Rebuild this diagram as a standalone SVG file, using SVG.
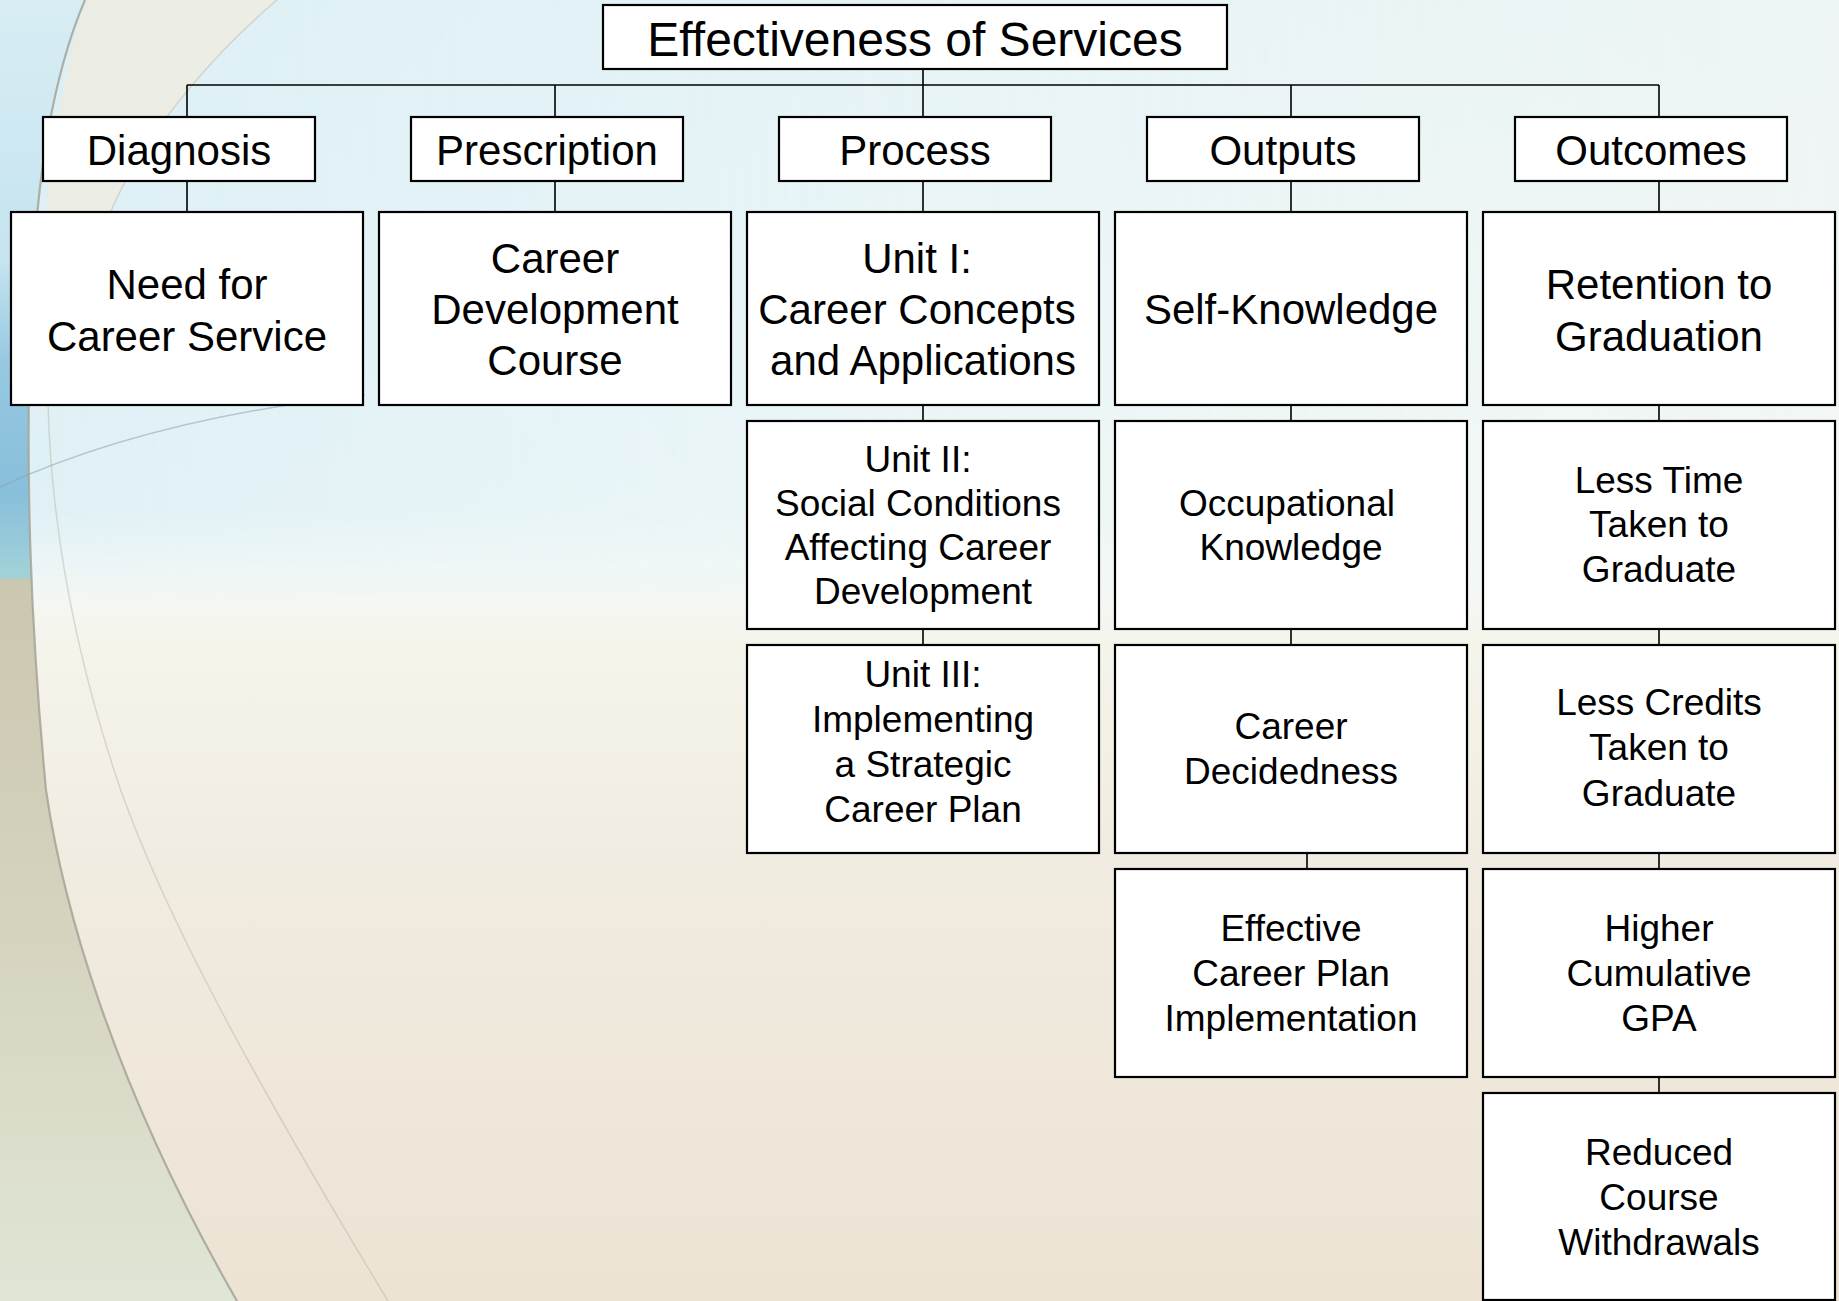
<svg xmlns="http://www.w3.org/2000/svg" width="1839" height="1301" viewBox="0 0 1839 1301">
<defs>
<linearGradient id="bgV" x1="0" y1="0" x2="0" y2="1">
<stop offset="0" stop-color="#e8f4f7"/>
<stop offset="0.3" stop-color="#eff7f8"/>
<stop offset="0.44" stop-color="#f3f8f7"/>
<stop offset="0.5" stop-color="#f5f4ea"/>
<stop offset="0.65" stop-color="#f1ece1"/>
<stop offset="1" stop-color="#ece3d4"/>
</linearGradient>
<linearGradient id="bgH" x1="0" y1="0" x2="1" y2="0">
<stop offset="0" stop-color="#d3ebf4" stop-opacity="0.6"/>
<stop offset="0.4" stop-color="#dcf0f6" stop-opacity="0.35"/>
<stop offset="0.8" stop-color="#f4f6f0" stop-opacity="0.2"/>
<stop offset="1" stop-color="#f6f6f0" stop-opacity="0.4"/>
</linearGradient>
<linearGradient id="bgHv" x1="0" y1="0" x2="0" y2="1">
<stop offset="0" stop-color="#ffffff" stop-opacity="1"/>
<stop offset="0.85" stop-color="#ffffff" stop-opacity="1"/>
<stop offset="1" stop-color="#ffffff" stop-opacity="0"/>
</linearGradient>
<mask id="topMask"><rect x="0" y="0" width="1839" height="600" fill="url(#bgHv)"/></mask>
<linearGradient id="leftG" x1="0" y1="0" x2="0" y2="1">
<stop offset="0" stop-color="#d8edf4"/>
<stop offset="0.2" stop-color="#c5e4ef"/>
<stop offset="0.28" stop-color="#96c8e1"/>
<stop offset="0.38" stop-color="#88bfdb"/>
<stop offset="0.443" stop-color="#a2d2d8"/>
<stop offset="0.447" stop-color="#cbc7b1"/>
<stop offset="0.7" stop-color="#d5d2bd"/>
<stop offset="1" stop-color="#dfe6d5"/>
</linearGradient>
<style>
.box{fill:#ffffff;stroke:#000000;stroke-width:2.2}
.ln{fill:none;stroke:#000000;stroke-width:1.6}
.t{font-family:"Liberation Sans",Arial,sans-serif;fill:#000000;text-anchor:middle}
.h{font-size:48px}
.m{font-size:42px}
.s{font-size:37px}
</style>
</defs>
<g id="background">
<rect x="0" y="0" width="1839" height="1301" fill="url(#bgV)"/>
<rect x="0" y="0" width="1839" height="600" fill="url(#bgH)" mask="url(#topMask)"/>
<path d="M277,0 C230,40 150,120 110,213 C80,290 55,350 42,420 C32,330 45,130 85,0 Z" fill="#f1ebdd" opacity="0.7"/>
<path d="M0,0 L85,0 C55,70 35,170 30,330 C26,480 30,620 46,790 C62,900 110,1080 237,1301 L0,1301 Z" fill="url(#leftG)"/>
<path d="M85,0 C55,70 35,170 30,330 C26,480 30,620 46,790 C62,900 110,1080 237,1301" fill="none" stroke="#a6a397" stroke-width="2.2" opacity="0.85"/>
<path d="M277,0 C230,40 150,120 110,213 C80,290 52,350 48,403 C52,560 90,700 121,791 C160,900 230,1040 388,1301" fill="none" stroke="#b9b3a4" stroke-width="1.5" opacity="0.45"/>
<path d="M0,487 Q150,418 365,395" fill="none" stroke="#8aa3ae" stroke-width="1.5" opacity="0.55"/>
</g>
<g id="connectors">
<path class="ln" d="M187,85 H1659"/>
<path class="ln" d="M187,85 V117 M555,85 V117 M923,69 V117 M1291,85 V117 M1659,85 V117"/>
<path class="ln" d="M187,181 V212 M555,181 V212 M923,181 V212 M1291,181 V212 M1659,181 V212"/>
<path class="ln" d="M923,405 V421 M923,629 V645"/>
<path class="ln" d="M1291,405 V421 M1291,629 V645 M1307,853 V869"/>
<path class="ln" d="M1659,405 V421 M1659,629 V645 M1659,853 V869 M1659,1077 V1093"/>
</g>
<g id="n-root"><rect class="box" x="603" y="5" width="624" height="64"/><text class="t h" x="915" y="56">Effectiveness of Services</text></g>
<g id="n-diagnosis"><rect class="box" x="43" y="117" width="272" height="64"/><text class="t m" x="179" y="165">Diagnosis</text></g>
<g id="n-prescription"><rect class="box" x="411" y="117" width="272" height="64"/><text class="t m" x="547" y="165">Prescription</text></g>
<g id="n-process"><rect class="box" x="779" y="117" width="272" height="64"/><text class="t m" x="915" y="165">Process</text></g>
<g id="n-outputs"><rect class="box" x="1147" y="117" width="272" height="64"/><text class="t m" x="1283" y="165">Outputs</text></g>
<g id="n-outcomes"><rect class="box" x="1515" y="117" width="272" height="64"/><text class="t m" x="1651" y="165">Outcomes</text></g>
<g id="n-need"><rect class="box" x="11" y="212" width="352" height="193"/><text class="t m" x="187" y="299">Need for</text><text class="t m" x="187" y="351">Career Service</text></g>
<g id="n-course"><rect class="box" x="379" y="212" width="352" height="193"/><text class="t m" x="555" y="273">Career</text><text class="t m" x="555" y="324">Development</text><text class="t m" x="555" y="375">Course</text></g>
<g id="n-unit1"><rect class="box" x="747" y="212" width="352" height="193"/><text class="t m" x="917" y="273">Unit I:</text><text class="t m" x="917" y="324">Career Concepts</text><text class="t m" x="923" y="375">and Applications</text></g>
<g id="n-self"><rect class="box" x="1115" y="212" width="352" height="193"/><text class="t m" x="1291" y="324">Self-Knowledge</text></g>
<g id="n-retention"><rect class="box" x="1483" y="212" width="352" height="193"/><text class="t m" x="1659" y="299">Retention to</text><text class="t m" x="1659" y="351">Graduation</text></g>
<g id="n-unit2"><rect class="box" x="747" y="421" width="352" height="208"/><text class="t s" x="918" y="472">Unit II:</text><text class="t s" x="918" y="516">Social Conditions</text><text class="t s" x="918" y="560">Affecting Career</text><text class="t s" x="923" y="604">Development</text></g>
<g id="n-occupational"><rect class="box" x="1115" y="421" width="352" height="208"/><text class="t s" x="1287" y="516">Occupational</text><text class="t s" x="1291" y="560">Knowledge</text></g>
<g id="n-lesstime"><rect class="box" x="1483" y="421" width="352" height="208"/><text class="t s" x="1659" y="493">Less Time</text><text class="t s" x="1659" y="537">Taken to</text><text class="t s" x="1659" y="582">Graduate</text></g>
<g id="n-unit3"><rect class="box" x="747" y="645" width="352" height="208"/><text class="t s" x="923" y="687">Unit III:</text><text class="t s" x="923" y="732">Implementing</text><text class="t s" x="923" y="777">a Strategic</text><text class="t s" x="923" y="822">Career Plan</text></g>
<g id="n-decidedness"><rect class="box" x="1115" y="645" width="352" height="208"/><text class="t s" x="1291" y="739">Career</text><text class="t s" x="1291" y="784">Decidedness</text></g>
<g id="n-lesscredits"><rect class="box" x="1483" y="645" width="352" height="208"/><text class="t s" x="1659" y="715">Less Credits</text><text class="t s" x="1659" y="760">Taken to</text><text class="t s" x="1659" y="806">Graduate</text></g>
<g id="n-effective"><rect class="box" x="1115" y="869" width="352" height="208"/><text class="t s" x="1291" y="941">Effective</text><text class="t s" x="1291" y="986">Career Plan</text><text class="t s" x="1291" y="1031">Implementation</text></g>
<g id="n-gpa"><rect class="box" x="1483" y="869" width="352" height="208"/><text class="t s" x="1659" y="941">Higher</text><text class="t s" x="1659" y="986">Cumulative</text><text class="t s" x="1659" y="1031">GPA</text></g>
<g id="n-withdrawals"><rect class="box" x="1483" y="1093" width="352" height="207"/><text class="t s" x="1659" y="1165">Reduced</text><text class="t s" x="1659" y="1210">Course</text><text class="t s" x="1659" y="1255">Withdrawals</text></g>
</svg>
